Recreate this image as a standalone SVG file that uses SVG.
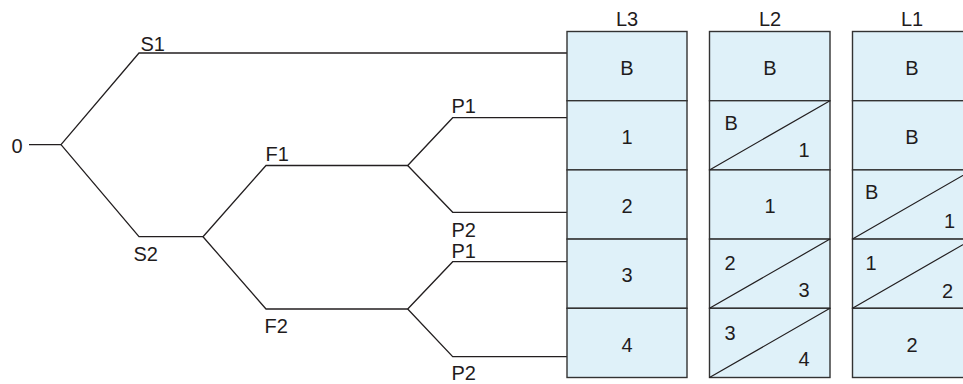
<svg xmlns="http://www.w3.org/2000/svg" width="963" height="384" viewBox="0 0 963 384">
<style>
text{font-family:"Liberation Sans",Arial,sans-serif;font-size:20px;fill:#1f1c1d}
.c{text-anchor:middle}
.cell{fill:#dff1f9;stroke:#333;stroke-width:1.4}
.dg{stroke:#231f20;stroke-width:1.2;fill:none}
.ln{stroke:#231f20;stroke-width:1.3;fill:none;stroke-linejoin:miter}
</style>
<rect width="963" height="384" fill="#fff"/>
<g id="connectors">
<path class="ln" d="M29 144.7H61L139 53H567"/>
<path class="ln" d="M61 144.7L139 236.7H203"/>
<path class="ln" d="M203 236.7L266 165.5H407.7L452.7 117.7H567"/>
<path class="ln" d="M407.7 165.5L452.7 212.3H567"/>
<path class="ln" d="M203 236.7L266 309H407.7L452.7 261.7H567"/>
<path class="ln" d="M407.7 309L452.7 356.7H567"/>
</g>
<g id="n0"><text x="11.5" y="153">0</text></g>
<g id="nS1"><text x="140.5" y="50.5">S1</text></g>
<g id="nS2"><text x="133.5" y="261">S2</text></g>
<g id="nF1"><text x="265.5" y="160.5">F1</text></g>
<g id="nF2"><text x="264.5" y="333">F2</text></g>
<g id="nP1a"><text x="451.5" y="113.3">P1</text></g>
<g id="nP2a"><text x="451.5" y="236.7">P2</text></g>
<g id="nP1b"><text x="451.5" y="258.3">P1</text></g>
<g id="nP2b"><text x="451.5" y="380">P2</text></g>
<g id="L3">
<text class="c" x="627" y="26">L3</text>
<rect class="cell" x="567" y="31.5" width="120" height="69.2"/>
<rect class="cell" x="567" y="100.7" width="120" height="69.2"/>
<rect class="cell" x="567" y="169.9" width="120" height="69.2"/>
<rect class="cell" x="567" y="239.1" width="120" height="69.2"/>
<rect class="cell" x="567" y="308.3" width="120" height="69.2"/>
<text class="c" x="627" y="74.5">B</text>
<text class="c" x="627" y="143.5">1</text>
<text class="c" x="627" y="213">2</text>
<text class="c" x="627" y="282">3</text>
<text class="c" x="627" y="351.5">4</text>
</g>
<g id="L2">
<text class="c" x="770" y="26">L2</text>
<rect class="cell" x="709.5" y="31.5" width="120.5" height="69.2"/>
<rect class="cell" x="709.5" y="100.7" width="120.5" height="69.2"/>
<rect class="cell" x="709.5" y="169.9" width="120.5" height="69.2"/>
<rect class="cell" x="709.5" y="239.1" width="120.5" height="69.2"/>
<rect class="cell" x="709.5" y="308.3" width="120.5" height="69.2"/>
<path class="dg" d="M709.5 169.9L830 100.7M709.5 308.3L830 239.1M709.5 377.5L830 308.3"/>
<text class="c" x="770" y="74.5">B</text>
<text x="724.5" y="130">B</text>
<text x="798.5" y="157">1</text>
<text class="c" x="770" y="213">1</text>
<text x="724.5" y="270">2</text>
<text x="798.5" y="297">3</text>
<text x="724.5" y="340">3</text>
<text x="798.5" y="366">4</text>
</g>
<g id="L1">
<text class="c" x="912" y="26">L1</text>
<rect class="cell" x="852.5" y="31.5" width="120" height="69.2"/>
<rect class="cell" x="852.5" y="100.7" width="120" height="69.2"/>
<rect class="cell" x="852.5" y="169.9" width="120" height="69.2"/>
<rect class="cell" x="852.5" y="239.1" width="120" height="69.2"/>
<rect class="cell" x="852.5" y="308.3" width="120" height="69.2"/>
<path class="dg" d="M852.5 239.1L972.5 169.9M852.5 308.3L972.5 239.1"/>
<text class="c" x="912" y="74.5">B</text>
<text class="c" x="912" y="143.5">B</text>
<text x="865" y="199">B</text>
<text x="944" y="228">1</text>
<text x="865.5" y="270">1</text>
<text x="942" y="298">2</text>
<text class="c" x="912" y="351.5">2</text>
</g>
</svg>
